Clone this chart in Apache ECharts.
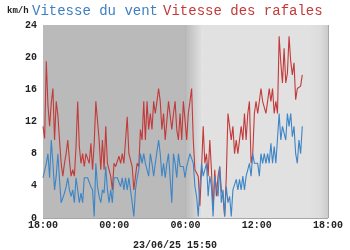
<!DOCTYPE html>
<html><head><meta charset="utf-8">
<script src="https://cdn.jsdelivr.net/npm/echarts@6/dist/echarts.min.js"></script>
<style>html,body{margin:0;padding:0;background:#fff}#c{width:350px;height:250px}</style>
</head><body><div id="c"></div>
<script>
// hours after 18:00 of the first reading and of the last reading (15:50 next day)
const startHour = 18;
const endOffsetHours = 21 + 50 / 60;
const windValues = [
  5,5,6.8,8,5,9.7,6.8,3.5,5.2,8,4.8,
  1.9,1.9,3.1,3.9,5,3.5,2.7,3.5,1.9,5,
  3.5,1.9,3.1,1.9,5,5,5,5,3.9,3.5,
  0.2,6.8,3.9,2.7,1.9,3.5,3.1,6.4,3.5,1.9,
  3.5,1.9,5,5,5,5,3.9,5,3.5,5,
  3.5,5,3.5,1.9,0.2,3.5,5,6,8,6.8,
  8,6.8,6.8,5.2,8,6.8,5.2,6.8,6.8,9.7,
  8,5.2,6.8,5,6.8,8,8,1.9,8,6.8,
  5,8,
  6.4,6.4,6.4,5,6.4,6.4,8,8,6.8,3.9,
  2.7,0.2,3.9,6.8,5.2,5.2,6.8,2.7,5.2,3.9,
  0.2,5.2,3.9,2.7,6.4,1.9,3.5,0.2,3.9,1.9,
  2.7,0.2,3.5,3.5,4.8,3.5,4.8,3.5,5.2,3.5,
  5.2,5,6.8,5.2,8,6.8,6.8,6.8,5.2,8,
  6.8,8,6.8,8,6.8,9.3,6.8,8.9,6.8,6.8,
  13,9.7,11.4,11.4,9.7,13,11.4,13,10.1,11.4,
  8,6.8,9.7,8,11.4
];
const gustValues = [
  11.4,9.9,19.5,14,11.4,14.3,16.1,9.7,14.5,12.8,9.7,
  6.8,5.2,6.8,8,9.7,7.2,5.2,6,5.2,8.9,
  14.5,8.9,6.8,8,6.4,8,8,6.8,9.3,6,
  9.3,14.5,14.5,9.7,6,9.7,6,11.4,6.8,6.8,
  5.2,3.5,6.8,6.4,6.4,7.7,6.8,8,6.8,9.7,
  12.6,8,8,6.4,3.5,5.2,6.8,6.4,11,9.7,
  14.5,9.7,14.5,11,13,11,14.5,13,14.5,16.1,
  14.5,11,13,9.7,9.7,14.5,14.5,11,13,14.5,
  11,9.7,
  13,9.7,14.5,12.2,9.7,13,14.5,16.1,9.7,6,
  6,5.2,1.5,6,11.4,6.8,8,5.2,9.7,6,
  1,6,2.7,5.2,6.4,3.5,2.7,0.2,5.2,13,
  11.4,9.7,11.4,8,9.7,8,8,11.4,9.7,13,
  9.7,13,14.5,6.8,8,13,14.5,13,14.5,16.1,
  14.5,14.5,13,14.5,16.1,14.5,16.1,13,14.5,13,
  22.6,19.3,16.8,21.1,16.8,18,22.6,19.5,17.8,19.3,
  14.7,16.1,16.1,16.4,17.8
];
const windName = 'Vitesse du vent';
const gustName = 'Vitesse des rafales';
const unitLabel = 'km/h';
const dateLabel = '23/06/25 15:50';
const yMin = 0, yMax = 24, yStep = 4;
const xMin = 0, xMax = 24, xStep = 3, xLabelEvery = 6;
// background zones (hours after 18:00)
const nightEnd = 12, dawnEnd = 13.4, edgeStart = 22.4;

const n = windValues.length;
const step = endOffsetHours / (n - 1);
const windData = windValues.map((v, i) => [i * step, v]);
const gustData = gustValues.map((v, i) => [i * step, v]);

const pad = v => (v < 10 ? '0' : '') + v;
const mono = '"Liberation Mono", "DejaVu Sans Mono", monospace';
const dark = '#bababa', light = '#e1e1e1';
const hgrad = (a, b) => new echarts.graphic.LinearGradient(0, 0, 1, 0, [{offset: 0, color: a}, {offset: 1, color: b}]);
const edgeGrad = new echarts.graphic.LinearGradient(0, 0, 1, 0, [
  {offset: 0, color: light}, {offset: 0.6, color: '#dcdcdc'}, {offset: 1, color: '#cbcbcb'}]);

const chart = echarts.init(document.getElementById('c'), null, {renderer: 'canvas'});
chart.setOption({
  animation: false,
  backgroundColor: '#ffffff',
  title: [
    {text: '{b|' + windName + '} {r|' + gustName + '}', left: 27, top: -3,
      textStyle: {rich: {
        b: {fontFamily: mono, fontSize: 14, fontWeight: 'normal', color: '#3d7fc1'},
        r: {fontFamily: mono, fontSize: 14, fontWeight: 'normal', color: '#c23a3a'}
      }}},
    {text: unitLabel, left: 2, top: 1,
      textStyle: {fontFamily: mono, fontSize: 9, fontWeight: 'bold', color: '#222'}},
    {text: dateLabel, left: 'center', top: 235,
      textStyle: {fontFamily: mono, fontSize: 10, fontWeight: 'bold', color: '#222'}}
  ],
  grid: {left: 43, right: 22, top: 25, bottom: 32, containLabel: false},
  xAxis: {
    type: 'value', min: xMin, max: xMax, interval: xStep, z: 1,
    axisLine: {show: false}, axisTick: {show: false},
    axisLabel: {fontFamily: mono, fontSize: 10, fontWeight: 'bold', color: '#222', margin: 2,
      formatter: v => (v % xLabelEvery === 0 ? pad((startHour + v) % 24) + ':00' : '')},
    splitLine: {show: true, lineStyle: {color: '#a6a6a6', width: 1}}
  },
  yAxis: {
    type: 'value', min: yMin, max: yMax, interval: yStep, z: 1,
    axisLine: {show: false}, axisTick: {show: false},
    axisLabel: {fontFamily: mono, fontSize: 10, fontWeight: 'bold', color: '#222', margin: 6},
    splitLine: {show: true, lineStyle: {color: '#a6a6a6', width: 1}},
    minorTick: {show: false, splitNumber: 2},
    minorSplitLine: {show: true, lineStyle: {color: '#a6a6a6', width: 1}}
  },
  series: [
    {type: 'line', data: [], z: 0, silent: true,
      markArea: {silent: true, data: [
        [{xAxis: xMin, itemStyle: {color: dark}}, {xAxis: nightEnd}],
        [{xAxis: nightEnd, itemStyle: {color: hgrad(dark, light)}}, {xAxis: dawnEnd}],
        [{xAxis: dawnEnd, itemStyle: {color: light}}, {xAxis: edgeStart}],
        [{xAxis: edgeStart, itemStyle: {color: edgeGrad}}, {xAxis: xMax}]
      ]}},
    {name: gustName, type: 'line', data: gustData, showSymbol: false, z: 2,
      lineStyle: {color: '#c23a3a', width: 1.1}},
    {name: windName, type: 'line', data: windData, showSymbol: false, z: 3,
      lineStyle: {color: '#3d85c6', width: 1.1}}
  ]
});
</script></body></html>
